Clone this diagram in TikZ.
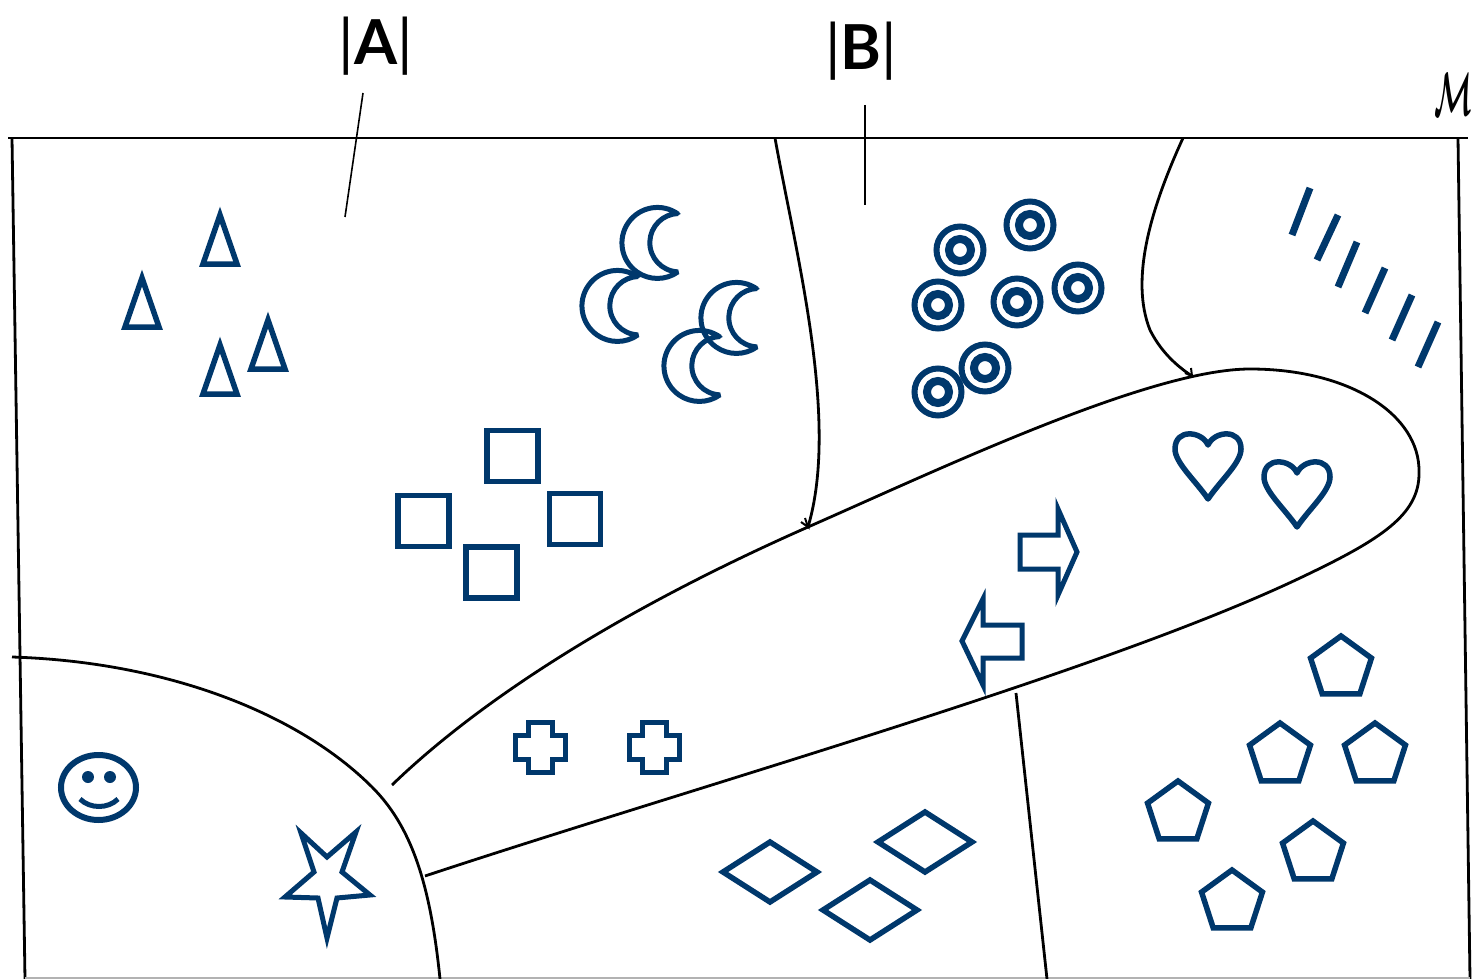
\documentclass[tikz,border=0pt]{standalone}
\usepackage{amsmath}
\usepackage{fontspec}
\newfontfamily\labfont{Lato}
\definecolor{navy}{RGB}{0,56,108}
\tikzset{
  bline/.style={black,line width=2.8pt,line join=round},
  pline/.style={black,line width=1.6pt},
  shp/.style={navy,line width=5.5pt,line join=miter},
  pics/tri/.style={code={\draw[shp] (-17,0) -- (17,0) -- (0,-49) -- cycle;}},
  pics/moon/.style={code={\draw[navy,line width=5pt,line join=bevel] (57,-29) arc[start angle=-54.6,end angle=-305.4,radius=35.5] arc[start angle=92,end angle=268,radius=29.2] -- cycle;}},
  pics/ring/.style={code={\draw[navy,line width=6pt] (0,0) circle[radius=23.5]; \draw[navy,line width=8pt] (0,0) circle[radius=11];}},
  pics/sqr/.style={code={\draw[shp] (-25.5,-25.5) rectangle (25.5,25.5);}},
  pics/heart/.style={code={\draw[shp,line join=round] (0,0) .. controls (6,-14) and (33,-17) .. (33,4) .. controls (33,18) and (12,36) .. (0,54) .. controls (-12,36) and (-33,18) .. (-33,4) .. controls (-33,-17) and (-6,-14) .. cycle;}},
  pics/pent/.style={code={\draw[shp] (-90:32) -- (-18:32) -- (54:32) -- (126:32) -- (198:32) -- cycle;}},
  pics/diam/.style={code={\draw[shp] (-47,0) -- (0,-30) -- (47,0) -- (0,30) -- cycle;}},
  pics/plus/.style={code={\draw[shp,line width=5pt] (-12,-25) -- (12,-25) -- (12,-12) -- (25,-12) -- (25,12) -- (12,12) -- (12,25) -- (-12,25) -- (-12,12) -- (-25,12) -- (-25,-12) -- (-12,-12) -- cycle;}},
}
\begin{document}
\begin{tikzpicture}[x=1pt,y=-1pt]
\useasboundingbox (0,0) rectangle (1476,979);
\fill[white] (0,0) rectangle (1476,979);
% labels
\node[font=\labfont\fontsize{62}{62}\selectfont,inner sep=0] (labA) at (376,46) {|\textbf{A}|};
\node[font=\labfont\fontsize{62}{62}\selectfont,inner sep=0] (labB) at (861,51) {|\textbf{B}|};
\node[inner sep=0] (labM) at (1453,94) {\resizebox{38pt}{42pt}{$\boldsymbol{\mathcal{M}}$}};
\coordinate (pa1) at (363,93); \coordinate (pa2) at (345,217);
\coordinate (pb1) at (865,105); \coordinate (pb2) at (865,205);
\draw[pline] (pa1) -- (pa2);
\draw[pline] (pb1) -- (pb2);
% frame
\coordinate (tl) at (8,138); \coordinate (tr) at (1468,138);
\draw[black,line width=2.4pt] (tl) -- (tr);
\coordinate (l1) at (12,138); \coordinate (l2) at (25,979);
\coordinate (r1) at (1458,138); \coordinate (r2) at (1470,979);
\draw[bline] (l1) -- (l2);
\draw[bline] (r1) -- (r2);
\draw[gray!60,line width=1.5pt] (25,978) -- (1470,978);
% region boundaries
\coordinate (c1a) at (775,138); \coordinate (c1b) at (808,527);
\draw[bline] (c1a) .. controls (795,250) and (840,420) .. (c1b);
\draw[black,line width=2pt] (801,522) -- (c1b) -- (805,518);
\coordinate (c2a) at (1183,138); \coordinate (c2m) at (1150,330); \coordinate (c2b) at (1192,376);
\draw[bline] (c2a) .. controls (1150,210) and (1130,280) .. (c2m) .. controls (1160,350) and (1175,365) .. (c2b);
\draw[black,line width=2pt] (1185,373) -- (c2b) -- (1191,368);
\coordinate (lo1) at (392,785); \coordinate (lo2) at (1250,369); \coordinate (lo3) at (1419,472);
\coordinate (lo4) at (1300,578); \coordinate (lo5) at (425,876);
\draw[bline] (lo1) .. controls (480,700) and (620,610) .. (c1b)
  .. controls (940,469) and (1150,369) .. (lo2)
  .. controls (1350,369) and (1420,415) .. (lo3)
  .. controls (1420,515) and (1380,540) .. (lo4)
  .. controls (1100,673) and (700,785) .. (lo5);
\coordinate (la1) at (12,657); \coordinate (la2) at (372,787); \coordinate (la3) at (440,979);
\draw[bline] (la1) .. controls (170,662) and (300,715) .. (la2) .. controls (410,825) and (430,880) .. (la3);
\coordinate (d1) at (1016,693); \coordinate (d2) at (1047,979);
\draw[bline] (d1) -- (d2);
% triangles
\pic at (220,264) {tri};
\pic at (142,327) {tri};
\pic at (220,394) {tri};
\pic at (268,369) {tri};
% moons
\pic at (621,243) {moon};
\pic at (581,306) {moon};
\pic at (700,318) {moon};
\pic at (663,366) {moon};
% rings
\foreach \p in {(960,250),(1030,225),(938,305),(1017,302),(1078,288),(985,368),(938,392)}
  \pic at \p {ring};
% slashes
\foreach \a/\b in {{(1310,188)}/{(1292,235)},{(1338,215)}/{(1317,260)},{(1357,242)}/{(1338,287)},{(1385,268)}/{(1365,313)},{(1412,295)}/{(1392,340)},{(1438,322)}/{(1418,367)}}
  \draw[navy,line width=7pt] \a -- \b;
% squares
\pic at (512.5,456) {sqr};
\pic at (423.5,521) {sqr};
\pic at (575,519) {sqr};
\pic at (491.5,572.5) {sqr};
% hearts
\pic at (1208,445) {heart};
\pic at (1297,473) {heart};
% arrows
\draw[shp,line width=5pt] (1020,535) -- (1058,535) -- (1058,509) -- (1077,552) -- (1058,595) -- (1058,569) -- (1020,569) -- cycle;
\draw[shp,line width=5pt] (1022,625) -- (983,625) -- (983,599) -- (962,641) -- (983,685) -- (983,658) -- (1022,658) -- cycle;
% crosses
\pic at (540,747) {plus};
\pic at (654,747) {plus};
% diamonds
\pic at (770,872) {diam};
\pic at (870,910) {diam};
\pic at (925,842) {diam};
% pentagons
\foreach \p in {(1341,668),(1280,755),(1375,755),(1178,813),(1313,853),(1232,902)}
  \pic at \p {pent};
% smiley
\draw[navy,line width=6pt] (98.5,787.5) ellipse[x radius=37.5,y radius=32.5];
\fill[navy] (88,777) circle[radius=6];
\fill[navy] (110,777) circle[radius=6];
\draw[navy,line width=5pt] (80,799) .. controls (90,809) and (108,809) .. (118,799);
% star
\draw[shp,line width=5pt] (301,833) -- (314,872) -- (285,897) -- (318,898) -- (327,938) -- (337,898) -- (370,895) -- (342,872) -- (356,832) -- (327,857) -- cycle;
\end{tikzpicture}
\end{document}
